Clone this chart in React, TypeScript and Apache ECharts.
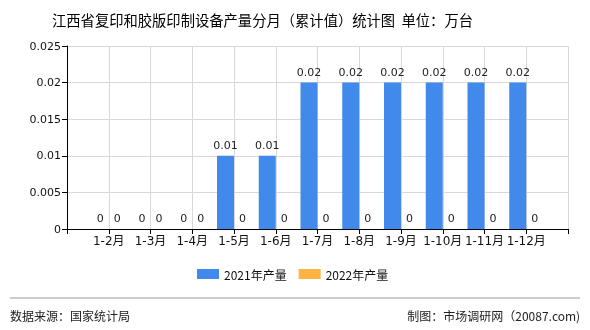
import React, { useEffect, useRef } from "react";
import * as echarts from "echarts";

const categories = ["", "1-2月", "1-3月", "1-4月", "1-5月", "1-6月", "1-7月", "1-8月", "1-9月", "1-10月", "1-11月", "1-12月", ""];
const values2021: (number | string)[] = ["-", 0, 0, 0, 0.01, 0.01, 0.02, 0.02, 0.02, 0.02, 0.02, 0.02, "-"];
const values2022: (number | string)[] = ["-", 0, 0, 0, 0, 0, 0, 0, 0, 0, 0, 0, "-"];
const seriesNames = ["2021年产量", "2022年产量"];
const title = "江西省复印和胶版印制设备产量分月（累计值）统计图  单位：万台";
const sourceText = "数据来源：国家统计局";
const creditText = "制图：市场调研网（20087.com)";

export default function App() {
  const ref = useRef<HTMLDivElement>(null);
  useEffect(() => {
    if (!ref.current) return;
    const chart = echarts.init(ref.current, null, { renderer: "svg" });
    const font = "'DejaVu Sans', 'Noto Sans CJK SC', sans-serif";
    const label = {
      show: true,
      position: "top" as const,
      color: "#222",
      fontSize: 11,
      fontFamily: font,
      distance: 5,
    };
    chart.setOption({
      animation: false,
      textStyle: { fontFamily: font },
      title: {
        text: title,
        left: 47,
        top: 7,
        textStyle: { fontSize: 14.3, fontWeight: "normal", color: "#000", fontFamily: "'Noto Sans CJK SC', sans-serif" },
      },
      legend: {
        bottom: 45,
        left: 192,
        itemWidth: 22,
        itemHeight: 10,
        itemGap: 12,
        icon: "rect",
        textStyle: { fontSize: 12, color: "#111", fontFamily: "'Noto Sans CJK SC', sans-serif" },
        data: seriesNames,
      },
      grid: { left: 67, right: 22, top: 46, bottom: 101 },
      xAxis: {
        type: "category",
        boundaryGap: false,
        data: categories,
        axisLine: { lineStyle: { color: "#000" } },
        axisTick: { show: true, interval: 0, lineStyle: { color: "#000" } },
        axisLabel: { interval: 0, color: "#111", fontSize: 12, margin: 6, fontFamily: font },
        splitLine: { show: true, interval: 0, lineStyle: { color: "#d8d8d8" } },
      },
      yAxis: {
        type: "value",
        min: 0,
        max: 0.025,
        interval: 0.005,
        axisLine: { show: true, lineStyle: { color: "#000" } },
        axisTick: { show: true, lineStyle: { color: "#000" } },
        axisLabel: { color: "#111", fontSize: 11, margin: 6, fontFamily: font },
        splitLine: { show: true, lineStyle: { color: "#d8d8d8" } },
      },
      series: [
        {
          name: seriesNames[0],
          type: "bar",
          data: values2021,
          barWidth: 17,
          barGap: "0%",
          itemStyle: { color: "#4189EA" },
          label,
        },
        {
          name: seriesNames[1],
          type: "bar",
          data: values2022,
          barWidth: 17,
          barGap: "0%",
          itemStyle: { color: "#FDB441" },
          label,
        },
      ],
      graphic: [
        {
          type: "line",
          shape: { x1: 10, y1: 298, x2: 580, y2: 298 },
          style: { stroke: "#999", lineWidth: 1 },
        },
        {
          type: "text",
          left: 10,
          top: 309,
          style: { text: sourceText, fontSize: 12, fill: "#222", fontFamily: "'Noto Sans CJK SC', sans-serif" },
        },
        {
          type: "text",
          right: 10,
          top: 309,
          style: { text: creditText, fontSize: 12, fill: "#222", fontFamily: "'Noto Sans CJK SC', sans-serif" },
        },
      ],
    });
    return () => chart.dispose();
  }, []);
  return <div ref={ref} style={{ width: 590, height: 330, position: "fixed", left: 0, top: 0 }} />;
}
